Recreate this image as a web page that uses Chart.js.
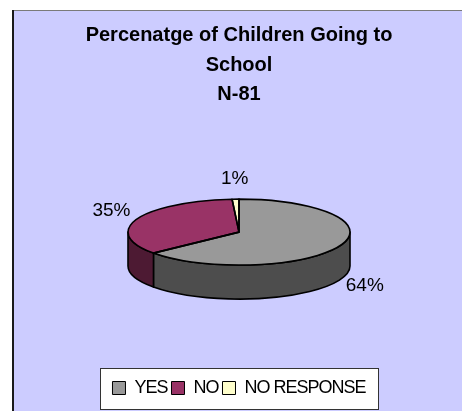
<!DOCTYPE html>
<html>
<head>
<meta charset="utf-8">
<script src="https://cdn.jsdelivr.net/npm/chart.js@4.4.1/dist/chart.umd.min.js"></script>
<style>
  html, body { margin: 0; padding: 0; background: #ffffff; }
  #wrap { width: 462px; height: 411px; position: relative; }
</style>
</head>
<body>
<div id="wrap"><canvas id="c" width="462" height="411"></canvas></div>
<script>
// Survey answers (share of children, %)
const categories = ['YES', 'NO', 'NO RESPONSE'];
const percentages = [64, 35, 1];
const titleLines = ['Percenatge of Children Going to', 'School', 'N-81'];

const topColors = ['#999999', '#993366', '#FFFFCC'];
const sideColors = ['#4D4D4D', '#4D1A33', '#99997A'];

const FONT = '"Liberation Sans", Arial, Helvetica, sans-serif';
const TILT = 0.297;   // vertical squash of the pie face
const DEPTH = 34;     // height of the cylinder wall

function pieGeometry(chart) {
  const arcs = chart.getDatasetMeta(0).data;
  const a0 = arcs[0];
  const rx = a0.outerRadius;
  return {
    arcs,
    rx,
    ry: rx * TILT,
    cx: a0.x,
    cy: a0.y - DEPTH / 2,
    ox: a0.x,
    oy: a0.y
  };
}

// Frame, lavender plot panel and the white legend box
const backdrop = {
  id: 'backdrop',
  beforeDraw(chart) {
    const ctx = chart.ctx;
    const W = chart.width, H = chart.height;
    ctx.save();
    ctx.fillStyle = '#ffffff';
    ctx.fillRect(0, 0, W, H);
    ctx.fillStyle = '#CCCCFF';
    ctx.fillRect(12, 10, W - 12, H - 10);
    ctx.fillStyle = '#7a7a7a';
    ctx.fillRect(12, 10, W - 12, 1);
    ctx.fillStyle = '#1a1a1a';
    ctx.fillRect(12, 10, 2, H - 10);

    const boxes = chart.legend && chart.legend.legendHitBoxes;
    if (boxes && boxes.length) {
      const first = boxes[0], last = boxes[boxes.length - 1];
      const l = Math.round(first.left - 12) + 0.5;
      const r = Math.round(last.left + last.width + 12) + 0.5;
      const mid = first.top + first.height / 2;
      const t = Math.round(mid - 20) + 0.5;
      const b = Math.round(mid + 21) + 0.5;
      ctx.fillStyle = '#ffffff';
      ctx.fillRect(l, t, r - l, b - t);
      ctx.strokeStyle = '#333333';
      ctx.lineWidth = 1;
      ctx.strokeRect(l, t, r - l, b - t);
    }
    ctx.restore();
  }
};

// Tight letter spacing for the legend entries (measured and drawn alike)
const tightLegend = {
  id: 'tightLegend',
  afterInit(chart) {
    const lg = chart.legend;
    if (!lg) return;
    ['fit', 'draw'].forEach(m => {
      const orig = lg[m].bind(lg);
      lg[m] = function (...args) {
        const ctx = chart.ctx;
        const prev = ctx.letterSpacing;
        ctx.letterSpacing = '-1px';
        try { return orig(...args); } finally { ctx.letterSpacing = prev || '0px'; }
      };
    });
  }
};

// Extrudes the pie into a tilted cylinder
const pie3d = {
  id: 'pie3d',
  beforeDatasetsDraw(chart) {
    const ctx = chart.ctx;
    const g = pieGeometry(chart);
    ctx.save();
    ctx.lineWidth = 1.6;
    ctx.strokeStyle = '#000000';
    ctx.lineJoin = 'round';
    g.arcs.forEach((arc, i) => {
      // only the front half (0..PI) of the wall is visible
      const a = Math.max(arc.startAngle, 0);
      const b = Math.min(arc.endAngle, Math.PI);
      if (b <= a) return;
      ctx.beginPath();
      ctx.ellipse(g.cx, g.cy, g.rx, g.ry, 0, a, b, false);
      ctx.lineTo(g.cx + g.rx * Math.cos(b), g.cy + DEPTH + g.ry * Math.sin(b));
      ctx.ellipse(g.cx, g.cy + DEPTH, g.rx, g.ry, 0, b, a, true);
      ctx.closePath();
      ctx.fillStyle = sideColors[i];
      ctx.fill();
      ctx.stroke();
    });
    ctx.restore();

    // squash the slices the library is about to draw into the top face
    ctx.save();
    ctx.translate(g.cx, g.cy);
    ctx.scale(1, TILT);
    ctx.translate(-g.ox, -g.oy);
  },
  afterDatasetsDraw(chart) {
    const ctx = chart.ctx;
    ctx.restore();
    const g = pieGeometry(chart);
    ctx.save();
    ctx.lineWidth = 1.6;
    ctx.strokeStyle = '#000000';
    ctx.lineJoin = 'round';
    g.arcs.forEach(arc => {
      ctx.beginPath();
      ctx.moveTo(g.cx, g.cy);
      ctx.ellipse(g.cx, g.cy, g.rx, g.ry, 0, arc.startAngle, arc.endAngle, false);
      ctx.closePath();
      ctx.stroke();
    });

    // percentage labels around the rim
    ctx.font = '19px ' + FONT;
    ctx.fillStyle = '#000000';
    ctx.textAlign = 'center';
    ctx.textBaseline = 'middle';
    g.arcs.forEach((arc, i) => {
      const mid = (arc.startAngle + arc.endAngle) / 2;
      const x = g.cx + (g.rx + 28) * Math.cos(mid);
      let y = g.cy + (g.ry + 20) * Math.sin(mid);
      if (Math.sin(mid) > 0) y += DEPTH - 3;
      ctx.fillText(percentages[i] + '%', x, y);
    });
    ctx.restore();
  }
};

new Chart(document.getElementById('c'), {
  type: 'pie',
  data: {
    labels: categories,
    datasets: [{
      data: percentages,
      backgroundColor: topColors,
      borderWidth: 0,
      radius: 111,
      clip: false
    }]
  },
  options: {
    responsive: false,
    animation: false,
    events: [],
    layout: { padding: { left: 16, right: 0, top: 0, bottom: 4 } },
    plugins: {
      title: {
        display: true,
        text: titleLines,
        color: '#000000',
        font: { family: FONT, size: 20, weight: 'bold', lineHeight: 1.47 },
        padding: { top: 21, bottom: 14 }
      },
      legend: {
        display: true,
        position: 'bottom',
        labels: {
          color: '#000000',
          font: { family: FONT, size: 18 },
          boxWidth: 13,
          boxHeight: 13,
          padding: 4,
          generateLabels: () => categories.map((c, i) => ({
            text: c,
            fillStyle: topColors[i],
            strokeStyle: '#000000',
            lineWidth: 1,
            hidden: false,
            index: i,
            fontColor: '#000000'
          }))
        }
      },
      tooltip: { enabled: false }
    }
  },
  plugins: [backdrop, tightLegend, pie3d]
});
</script>
</body>
</html>
